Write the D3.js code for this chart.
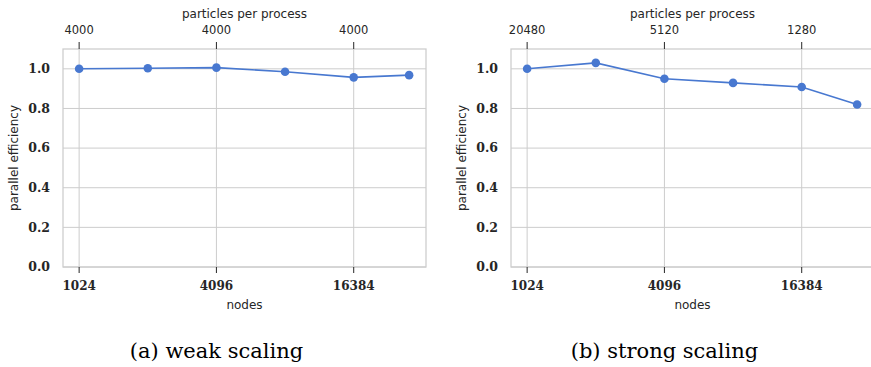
<!DOCTYPE html>
<html>
<head>
<meta charset="utf-8">
<script src="https://cdn.jsdelivr.net/npm/d3@7"></script>
<style>
  body { margin: 0; background: #fff; }
  svg { display: block; }
</style>
</head>
<body>
<div id="vis"></div>
<script>
// node counts (x, log2 scale) and efficiencies
let nodes = [1024, 2048, 4096, 8192, 16384, 28672]
let weakEff = [1.0, 1.003, 1.006, 0.985, 0.957, 0.968]
let strongEff = [1.0, 1.030, 0.950, 0.929, 0.908, 0.820]

let nodeTicks = [1024, 4096, 16384]
let weakTop = ['4000', '4000', '4000']
let strongTop = ['20480', '5120', '1280']
let yTicks = [0.0, 0.2, 0.4, 0.6, 0.8, 1.0]

let W = 871, H = 367
let pw = 363, plotTop = 49, plotBottom = 267

let svg = d3.select('#vis')
  .append('svg')
  .attr('width', W)
  .attr('height', H)

let x = d3.scaleLog().base(2).domain([870, 34000]).range([0, pw])
let y = d3.scaleLinear().domain([0, 1.1]).range([plotBottom, plotTop])

function panel(left, values, topLabels, caption) {
  let g = svg.append('g').attr('transform', `translate(${left},0)`)

  // grid
  g.selectAll('.hgrid').data(yTicks).enter().append('line')
    .attr('x1', 0).attr('x2', pw)
    .attr('y1', d => y(d)).attr('y2', d => y(d))
    .attr('stroke', '#cccccc').attr('stroke-width', 1)
  g.selectAll('.vgrid').data(nodeTicks).enter().append('line')
    .attr('x1', d => x(d)).attr('x2', d => x(d))
    .attr('y1', plotTop).attr('y2', plotBottom)
    .attr('stroke', '#cccccc').attr('stroke-width', 1)

  // frame
  g.append('rect')
    .attr('x', 0).attr('y', plotTop)
    .attr('width', pw).attr('height', plotBottom - plotTop)
    .attr('fill', 'none').attr('stroke', '#cccccc').attr('stroke-width', 1.25)

  // y tick labels
  g.selectAll('.ytl').data(yTicks).enter().append('text')
    .attr('x', -13).attr('y', d => y(d))
    .attr('dy', '0.35em')
    .attr('text-anchor', 'end')
    .style('font-family', 'DejaVu Serif').style('font-weight', 'bold')
    .style('font-size', '12.5px').attr('fill', '#262626')
    .text(d => d.toFixed(1))

  // bottom ticks
  g.selectAll('.bt').data(nodeTicks).enter().append('line')
    .attr('x1', d => x(d)).attr('x2', d => x(d))
    .attr('y1', plotBottom).attr('y2', plotBottom + 6)
    .attr('stroke', '#262626').attr('stroke-width', 1)
  g.selectAll('.btl').data(nodeTicks).enter().append('text')
    .attr('x', d => x(d)).attr('y', 290)
    .attr('text-anchor', 'middle')
    .style('font-family', 'DejaVu Serif').style('font-weight', 'bold')
    .style('font-size', '12px').attr('fill', '#262626')
    .text(d => d)

  // top ticks
  g.selectAll('.tt').data(nodeTicks).enter().append('line')
    .attr('x1', d => x(d)).attr('x2', d => x(d))
    .attr('y1', plotTop - 7).attr('y2', plotTop)
    .attr('stroke', '#262626').attr('stroke-width', 1)
  g.selectAll('.ttl').data(nodeTicks).enter().append('text')
    .attr('x', d => x(d)).attr('y', 34)
    .attr('text-anchor', 'middle')
    .style('font-family', 'DejaVu Sans')
    .style('font-size', '11.5px').attr('fill', '#262626')
    .text((d, i) => topLabels[i])

  // axis labels
  g.append('text')
    .attr('x', pw / 2).attr('y', 18)
    .attr('text-anchor', 'middle')
    .style('font-family', 'DejaVu Sans').style('font-size', '12px')
    .attr('fill', '#262626')
    .text('particles per process')
  g.append('text')
    .attr('x', pw / 2).attr('y', 309)
    .attr('text-anchor', 'middle')
    .style('font-family', 'DejaVu Sans').style('font-size', '12px')
    .attr('fill', '#262626')
    .text('nodes')
  g.append('text')
    .attr('transform', `translate(-49,${(plotTop + plotBottom) / 2}) rotate(-90)`)
    .attr('text-anchor', 'middle')
    .attr('dy', '0.35em')
    .style('font-family', 'DejaVu Sans').style('font-size', '12px')
    .attr('fill', '#262626')
    .text('parallel efficiency')

  // data
  let line = d3.line().x((d, i) => x(nodes[i])).y(d => y(d))
  g.append('path')
    .datum(values)
    .attr('d', line)
    .attr('fill', 'none')
    .attr('stroke', '#4878d0')
    .attr('stroke-width', 1.6)
  g.selectAll('.pt').data(values).enter().append('circle')
    .attr('cx', (d, i) => x(nodes[i])).attr('cy', d => y(d))
    .attr('r', 4.3)
    .attr('fill', '#4878d0')

  // caption
  g.append('text')
    .attr('x', pw / 2 - 28).attr('y', 358)
    .attr('text-anchor', 'middle')
    .style('font-family', 'DejaVu Serif').style('font-size', '21px')
    .attr('fill', '#000')
    .text(caption)
}

panel(63, weakEff, weakTop, '(a) weak scaling')
panel(511, strongEff, strongTop, '(b) strong scaling')
</script>
</body>
</html>
